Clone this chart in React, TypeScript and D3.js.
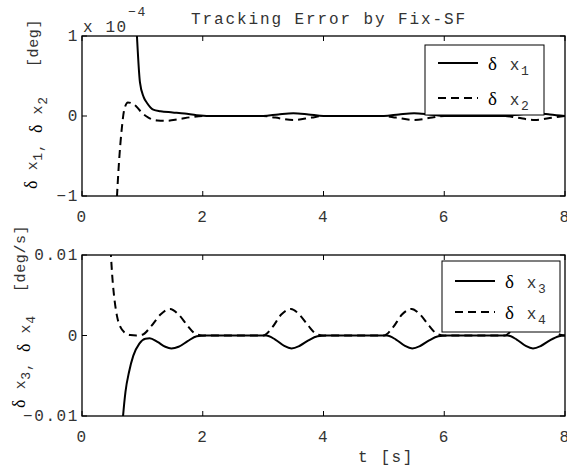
import React from "react";
import * as d3 from "d3";

// top panel, values in units of 1e-4 deg
const tX1 = [0.85, 0.91, 0.96, 1.02, 1.08, 1.18, 1.3, 1.5, 1.7, 1.9, 2.1, 3.0, 3.25, 3.5, 3.75, 4.0, 5.0, 5.25, 5.5, 5.75, 6.0, 7.0, 7.25, 7.5, 7.75, 8.0];
const x1 = [2.0, 1.0, 0.42, 0.24, 0.16, 0.08, 0.06, 0.045, 0.03, 0.01, 0.0, 0.0, 0.02, 0.035, 0.02, 0.0, 0.0, 0.02, 0.035, 0.02, 0.0, 0.0, 0.02, 0.035, 0.02, 0.0];
const tX2 = [0.55, 0.58, 0.62, 0.66, 0.7, 0.76, 0.82, 0.9, 0.98, 1.1, 1.25, 1.4, 1.6, 1.8, 2.0, 3.0, 3.2, 3.5, 3.8, 4.0, 5.0, 5.2, 5.5, 5.8, 6.0, 7.0, 7.2, 7.5, 7.8, 8.0];
const x2 = [-1.5, -1.0, -0.5, -0.15, 0.08, 0.17, 0.16, 0.12, 0.05, -0.02, -0.055, -0.06, -0.04, -0.015, 0.0, 0.0, -0.02, -0.05, -0.02, 0.0, 0.0, -0.02, -0.05, -0.02, 0.0, 0.0, -0.02, -0.05, -0.02, 0.0];

// bottom panel, deg/s
const tX3 = [0.64, 0.68, 0.72, 0.78, 0.85, 0.95, 1.05, 1.12, 1.25, 1.38, 1.48, 1.6, 1.75, 1.9, 2.05, 3.05, 3.2, 3.35, 3.47, 3.6, 3.75, 3.9, 4.05, 5.05, 5.2, 5.35, 5.47, 5.6, 5.75, 5.9, 6.05, 7.05, 7.2, 7.35, 7.47, 7.6, 7.75, 7.9, 8.0];
const x3 = [-0.014, -0.01, -0.007, -0.0045, -0.0025, -0.001, -0.0004, -0.00035, -0.0008, -0.0014, -0.0016, -0.0014, -0.0007, -0.0001, 0.0, 0.0, -0.0005, -0.0013, -0.0016, -0.0013, -0.0006, -0.0001, 0.0, 0.0, -0.0005, -0.0013, -0.0016, -0.0013, -0.0006, -0.0001, 0.0, 0.0, -0.0005, -0.0013, -0.0016, -0.0013, -0.0006, -0.0001, 0.0];
const tX4 = [0.46, 0.48, 0.5, 0.53, 0.58, 0.64, 0.7, 0.8, 0.9, 1.0, 1.15, 1.3, 1.46, 1.6, 1.75, 1.88, 2.0, 3.0, 3.15, 3.3, 3.46, 3.6, 3.75, 3.88, 4.0, 5.0, 5.15, 5.3, 5.46, 5.6, 5.75, 5.88, 6.0, 7.0, 7.15, 7.3, 7.46, 7.6, 7.75, 7.88, 8.0];
const x4 = [0.014, 0.01, 0.0075, 0.005, 0.0024, 0.001, 0.0004, 0.00005, 0.0, 0.0001, 0.0012, 0.0026, 0.0033, 0.0026, 0.0012, 0.0002, 0.0, 0.0, 0.001, 0.0026, 0.0033, 0.0026, 0.0012, 0.0002, 0.0, 0.0, 0.001, 0.0026, 0.0033, 0.0026, 0.0012, 0.0002, 0.0, 0.0, 0.001, 0.0026, 0.0033, 0.0026, 0.0012, 0.0002, 0.0];

const xTicks = [0, 2, 4, 6, 8];
const topYTicks = [-1, 0, 1];
const botYTicks = [-0.01, 0, 0.01];

const MONO = "Liberation Mono";
const SERIF = "Liberation Serif";
const TXT = "#333";
const LS = 1.6;

const xScale = d3.scaleLinear().domain([0, 8]).range([82, 565]);

function Sub({ base, sub, big = 19 }: { base: string; sub: string; big?: number }) {
  return (
    <>
      <tspan fontFamily={SERIF} fontSize={big} fill="#000">δ</tspan>
      <tspan> {base}</tspan>
      <tspan dy={5} fontSize={13}>{sub}</tspan>
      <tspan dy={-5}></tspan>
    </>
  );
}

function Panel({ id, top, bottom, yDomain, yTicks, fmt, series, legend }: any) {
  const y = d3.scaleLinear().domain(yDomain).range([bottom, top]);
  const [x0, x1r] = xScale.range();
  return (
    <g>
      <defs>
        <clipPath id={id}>
          <rect x={x0} y={top} width={x1r - x0} height={bottom - top} />
        </clipPath>
      </defs>
      <g clipPath={`url(#${id})`}>
        {series.map((s: any, i: number) => {
          const gen = d3
            .line<number>()
            .x((_, k) => xScale(s.t[k]))
            .y((v) => y(v))
            .curve(d3.curveMonotoneX);
          return (
            <path
              key={i}
              d={gen(s.v) || ""}
              fill="none"
              stroke="#000"
              strokeWidth={2}
              strokeDasharray={s.dash ? "8,5" : undefined}
            />
          );
        })}
      </g>
      <rect x={x0} y={top} width={x1r - x0} height={bottom - top} fill="none" stroke="#000" strokeWidth={1.3} />
      {xTicks.map((t) => (
        <g key={t}>
          <line x1={xScale(t)} x2={xScale(t)} y1={bottom} y2={bottom - 5} stroke="#000" />
          <line x1={xScale(t)} x2={xScale(t)} y1={top} y2={top + 5} stroke="#000" />
          <text x={xScale(t)} y={bottom + 26} textAnchor="middle" letterSpacing={LS}>{t}</text>
        </g>
      ))}
      {yTicks.map((t: number) => (
        <g key={t}>
          <line x1={x0} x2={x0 + 5} y1={y(t)} y2={y(t)} stroke="#000" />
          <line x1={x1r} x2={x1r - 5} y1={y(t)} y2={y(t)} stroke="#000" />
          <text x={79} y={y(t) + 5} textAnchor="end" letterSpacing={LS}>{fmt(t)}</text>
        </g>
      ))}
      <rect x={legend.x} y={legend.y} width={legend.w} height={legend.h} fill="#fff" stroke="#000" strokeWidth={1} />
      {legend.items.map((it: any, i: number) => {
        const ly = legend.y + legend.first + i * legend.step;
        return (
          <g key={i}>
            <line x1={legend.x + 13} x2={legend.x + 53} y1={ly} y2={ly} stroke="#000" strokeWidth={2} strokeDasharray={it.dash ? "8,5" : undefined} />
            <text x={legend.x + 63} y={ly + 7} letterSpacing={LS}>
              <Sub base="x" sub={it.sub} />
            </text>
          </g>
        );
      })}
    </g>
  );
}

export default function App() {
  const fmtTop = (v: number) => (v < 0 ? "−" + Math.abs(v) : String(v));
  const fmtBot = (v: number) => (v === 0 ? "0" : v < 0 ? "−0.01" : "0.01");
  return (
    <svg
      width={567}
      height={468}
      style={{ position: "absolute", left: 0, top: 0, background: "#fff" }}
      fontFamily={MONO}
      fontSize={16}
      fill={TXT}
    >
      <rect width={567} height={468} fill="#fff" />
      <text x={329} y={24} textAnchor="middle" letterSpacing={1.9}>Tracking Error by Fix-SF</text>
      <text x={83} y={32} letterSpacing={LS}>x 10</text>
      <text x={128} y={16} fontSize={13} letterSpacing={LS}>−4</text>
      <Panel
        id="c1"
        top={36}
        bottom={196}
        yDomain={[-1, 1]}
        yTicks={topYTicks}
        fmt={fmtTop}
        series={[{ t: tX1, v: x1 }, { t: tX2, v: x2, dash: true }]}
        legend={{ x: 425, y: 45, w: 119, h: 70, first: 18, step: 35, items: [{ sub: "1" }, { sub: "2", dash: true }] }}
      />
      <Panel
        id="c2"
        top={255}
        bottom={416}
        yDomain={[-0.01, 0.01]}
        yTicks={botYTicks}
        fmt={fmtBot}
        series={[{ t: tX3, v: x3 }, { t: tX4, v: x4, dash: true }]}
        legend={{ x: 442, y: 261, w: 118, h: 71, first: 20, step: 31, items: [{ sub: "3" }, { sub: "4", dash: true }] }}
      />
      <g fontSize={15}>
        <text transform="translate(37,189) rotate(-90)" letterSpacing={0.6}>
          <Sub base="x" sub="1" big={18} />
          <tspan>, </tspan>
          <Sub base="x" sub="2" big={18} />
        </text>
        <text transform="translate(38,67) rotate(-90)" letterSpacing={0.6}>[deg]</text>
        <text transform="translate(25,408) rotate(-90)" letterSpacing={0.6}>
          <Sub base="x" sub="3" big={18} />
          <tspan>, </tspan>
          <Sub base="x" sub="4" big={18} />
        </text>
        <text transform="translate(25,292) rotate(-90)" letterSpacing={0.6}>[deg/s]</text>
      </g>
      <text x={358} y={462} letterSpacing={LS}>t   [s]</text>
    </svg>
  );
}
